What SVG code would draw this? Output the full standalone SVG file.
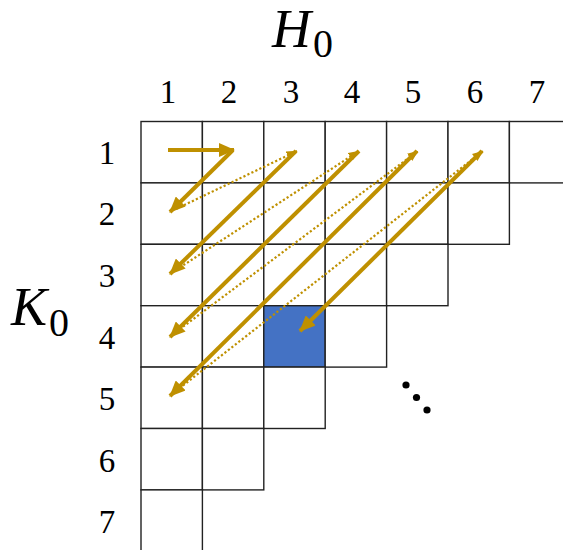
<svg xmlns="http://www.w3.org/2000/svg" width="563" height="550" viewBox="0 0 563 550">
<style>
.cell{fill:#fff;stroke:#222;stroke-width:1.4}
.num{font-family:"Liberation Serif",serif;font-size:33px;fill:#000;text-anchor:middle}
.var{font-family:"Liberation Serif",serif;font-style:italic;font-size:54px;fill:#000}
.sub{font-family:"Liberation Serif",serif;font-size:40px;fill:#000}
.solid{fill:none;stroke:#BF9000;stroke-width:4;marker-end:url(#hs)}
.dot{fill:none;stroke:#BF9000;stroke-width:2.2;stroke-dasharray:2.2 2.2;marker-end:url(#hd)}
</style>
<defs>
<marker id="hs" markerUnits="userSpaceOnUse" viewBox="0 0 16 14" refX="15" refY="7" markerWidth="16" markerHeight="14" orient="auto">
<path d="M0,0 L16,7 L0,14 Z" fill="#BF9000"/>
</marker>
<marker id="hd" markerUnits="userSpaceOnUse" viewBox="0 0 11 9" refX="10.5" refY="4.5" markerWidth="11" markerHeight="9" orient="auto">
<path d="M0,0 L11,4.5 L0,9 Z" fill="#BF9000"/>
</marker>
</defs>
<rect width="563" height="550" fill="#fff"/>
<g id="grid">
<rect class="cell" x="141" y="121.5" width="61.4" height="61.4"/>
<rect class="cell" x="202.4" y="121.5" width="61.4" height="61.4"/>
<rect class="cell" x="263.8" y="121.5" width="61.4" height="61.4"/>
<rect class="cell" x="325.2" y="121.5" width="61.4" height="61.4"/>
<rect class="cell" x="386.6" y="121.5" width="61.4" height="61.4"/>
<rect class="cell" x="448" y="121.5" width="61.4" height="61.4"/>
<rect class="cell" x="509.4" y="121.5" width="61.4" height="61.4"/>
<rect class="cell" x="141" y="182.9" width="61.4" height="61.4"/>
<rect class="cell" x="202.4" y="182.9" width="61.4" height="61.4"/>
<rect class="cell" x="263.8" y="182.9" width="61.4" height="61.4"/>
<rect class="cell" x="325.2" y="182.9" width="61.4" height="61.4"/>
<rect class="cell" x="386.6" y="182.9" width="61.4" height="61.4"/>
<rect class="cell" x="448" y="182.9" width="61.4" height="61.4"/>
<rect class="cell" x="141" y="244.3" width="61.4" height="61.4"/>
<rect class="cell" x="202.4" y="244.3" width="61.4" height="61.4"/>
<rect class="cell" x="263.8" y="244.3" width="61.4" height="61.4"/>
<rect class="cell" x="325.2" y="244.3" width="61.4" height="61.4"/>
<rect class="cell" x="386.6" y="244.3" width="61.4" height="61.4"/>
<rect class="cell" x="141" y="305.7" width="61.4" height="61.4"/>
<rect class="cell" x="202.4" y="305.7" width="61.4" height="61.4"/>
<rect class="cell" x="263.8" y="305.7" width="61.4" height="61.4" style="fill:#4472C4"/>
<rect class="cell" x="325.2" y="305.7" width="61.4" height="61.4"/>
<rect class="cell" x="141" y="367.1" width="61.4" height="61.4"/>
<rect class="cell" x="202.4" y="367.1" width="61.4" height="61.4"/>
<rect class="cell" x="263.8" y="367.1" width="61.4" height="61.4"/>
<rect class="cell" x="141" y="428.5" width="61.4" height="61.4"/>
<rect class="cell" x="202.4" y="428.5" width="61.4" height="61.4"/>
<rect class="cell" x="141" y="489.9" width="61.4" height="61.4"/>
</g>
<g id="col-labels">
<text class="num" x="168" y="103">1</text>
<text class="num" x="229" y="103">2</text>
<text class="num" x="291" y="103">3</text>
<text class="num" x="352" y="103">4</text>
<text class="num" x="413" y="103">5</text>
<text class="num" x="475" y="103">6</text>
<text class="num" x="537" y="103">7</text>
</g>
<g id="row-labels">
<text class="num" x="107" y="164">1</text>
<text class="num" x="107" y="225">2</text>
<text class="num" x="107" y="287">3</text>
<text class="num" x="107" y="349">4</text>
<text class="num" x="107" y="410">5</text>
<text class="num" x="107" y="472">6</text>
<text class="num" x="107" y="533">7</text>
</g>
<g id="H0"><text class="var" x="272" y="47">H</text><text class="sub" x="313" y="57">0</text></g>
<g id="K0"><text class="var" x="11" y="325">K</text><text class="sub" x="49" y="336">0</text></g>
<g id="ellipsis" fill="#000">
<circle cx="406" cy="385" r="3.6"/>
<circle cx="416.5" cy="397.5" r="3.6"/>
<circle cx="427" cy="410" r="3.6"/>
</g>
<g id="connectors">
<line class="solid" x1="168" y1="150" x2="234" y2="150"/>
<line class="solid" x1="233" y1="150" x2="170" y2="212"/>
<line class="dot" x1="176" y1="209" x2="297" y2="151"/>
<line class="solid" x1="296" y1="151" x2="170" y2="274"/>
<line class="dot" x1="176" y1="270" x2="359" y2="151"/>
<line class="solid" x1="359" y1="151" x2="170" y2="337"/>
<line class="dot" x1="176" y1="332" x2="418" y2="151"/>
<line class="solid" x1="417" y1="151" x2="170" y2="396"/>
<line class="dot" x1="176" y1="391" x2="483" y2="151"/>
<line class="solid" x1="482" y1="151" x2="300" y2="331"/>
</g>
</svg>
